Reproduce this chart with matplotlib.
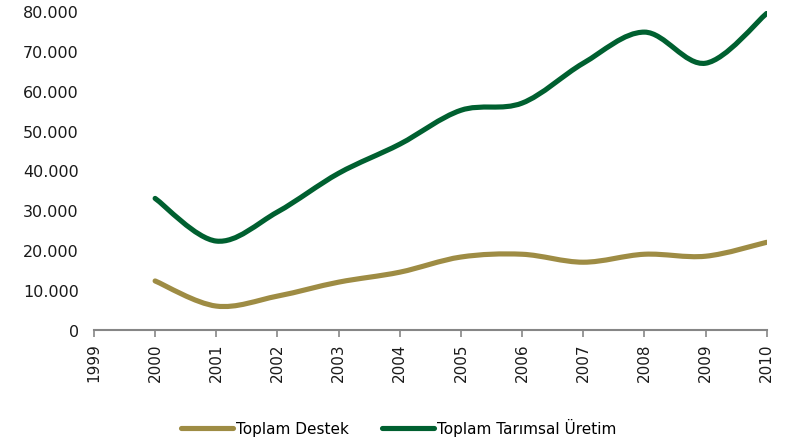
import numpy as np
import matplotlib.pyplot as plt
from matplotlib.path import Path
from matplotlib.patches import PathPatch
from matplotlib.lines import Line2D
from matplotlib.ticker import FuncFormatter

years = [2000, 2001, 2002, 2003, 2004, 2005, 2006, 2007, 2008, 2009, 2010]
destek = [12300, 6000, 8500, 12000, 14500, 18300, 19000, 17000, 19000, 18500, 22000]
uretim = [33000, 22300, 29600, 39300, 46600, 55100, 56900, 66900, 74700, 66900, 79400]

gold = "#9E8C44"
green = "#006030"


def smooth_path(x, y):
    # Excel-like smoothed line: cubic Bezier segments with Catmull-Rom tangents
    x = np.asarray(x, float)
    y = np.asarray(y, float)
    n = len(x)
    verts = [(x[0], y[0])]
    codes = [Path.MOVETO]
    for i in range(n - 1):
        p0 = (x[max(i - 1, 0)], y[max(i - 1, 0)])
        p1 = (x[i], y[i])
        p2 = (x[i + 1], y[i + 1])
        p3 = (x[min(i + 2, n - 1)], y[min(i + 2, n - 1)])
        c1 = (p1[0] + (p2[0] - p0[0]) / 6, p1[1] + (p2[1] - p0[1]) / 6)
        c2 = (p2[0] - (p3[0] - p1[0]) / 6, p2[1] - (p3[1] - p1[1]) / 6)
        verts += [c1, c2, p2]
        codes += [Path.CURVE4] * 3
    return Path(verts, codes)


fig = plt.figure(figsize=(7.85, 4.39), dpi=100)
ax = fig.add_axes([0.1197, 0.246, 0.857, 0.7267])

for ys, c in [(destek, gold), (uretim, green)]:
    ax.add_patch(PathPatch(smooth_path(years, ys), facecolor="none", edgecolor=c,
                           lw=3.7, capstyle="round", joinstyle="round"))

ax.set_xlim(1999, 2010)
ax.set_ylim(0, 80000)
ax.set_xticks(range(1999, 2011))
ax.set_xticklabels([str(y) for y in range(1999, 2011)], rotation=90)
ax.set_yticks(range(0, 80001, 10000))
ax.yaxis.set_major_formatter(FuncFormatter(lambda v, p: "0" if v == 0 else f"{int(v):,}".replace(",", ".")))

for s in ["top", "right", "left"]:
    ax.spines[s].set_visible(False)
ax.spines["bottom"].set_color("#868686")
ax.spines["bottom"].set_linewidth(1.5)
ax.tick_params(axis="x", direction="out", length=5, width=1.2, color="#868686",
               labelsize=11, labelcolor="#1a1a1a", pad=4)
ax.tick_params(axis="y", length=0, labelsize=11.5, labelcolor="#1a1a1a", pad=11)

handles = [Line2D([], [], color=gold, lw=3.7, solid_capstyle="round"),
           Line2D([], [], color=green, lw=3.7, solid_capstyle="round")]
fig.legend(handles, ["Toplam Destek", "Toplam Tarımsal Üretim"], loc="center",
           bbox_to_anchor=(0.508, 0.024), ncol=2, frameon=False, fontsize=11,
           handlelength=3.4, handletextpad=0.2, columnspacing=2.2, borderaxespad=0)

fig.savefig("out.png", dpi=100)
